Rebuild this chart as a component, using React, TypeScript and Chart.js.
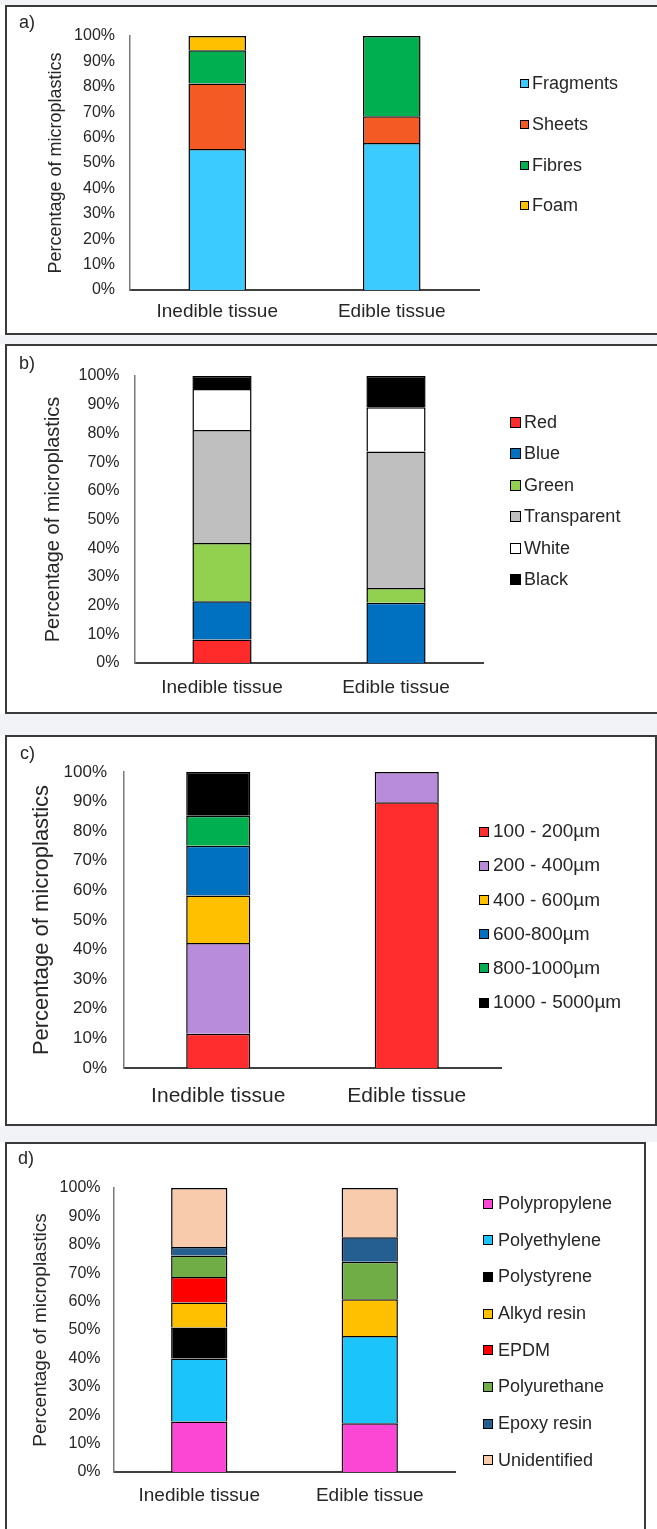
import React, { useEffect, useRef } from 'react';
import { Chart, registerables } from 'chart.js';
Chart.register(...registerables);

const FONT = '"Liberation Sans", Arial, sans-serif';
const TEXT = '#262626';
const AXIS_TITLE = 'Percentage of microplastics';

const categories = ['Inedible tissue', 'Edible tissue'];

// a) shape
const shapeLabels = ['Fragments', 'Sheets', 'Fibres', 'Foam'];
const shapeFragments = [55.5, 57.9];
const shapeSheets = [25.8, 10.5];
const shapeFibres = [13.1, 31.6];
const shapeFoam = [5.6, 0];
const shapeColors = ['#3ccbff', '#f45a24', '#00b050', '#ffc000'];

// b) colour
const colourLabels = ['Red', 'Blue', 'Green', 'Transparent', 'White', 'Black'];
const colourRed = [8.2, 0];
const colourBlue = [13.3, 21.0];
const colourGreen = [20.3, 5.1];
const colourTransparent = [39.4, 47.6];
const colourWhite = [14.3, 15.4];
const colourBlack = [4.5, 10.9];
const colourColors = ['#ff2b2b', '#0070c0', '#92d050', '#bfbfbf', '#ffffff', '#000000'];

// c) size
const sizeLabels = ['100 - 200µm', '200 - 400µm', '400 - 600µm', '600-800µm', '800-1000µm', '1000 - 5000µm'];
const size100 = [11.6, 89.8];
const size200 = [30.6, 10.2];
const size400 = [16.1, 0];
const size600 = [16.8, 0];
const size800 = [10.1, 0];
const size1000 = [14.8, 0];
const sizeColors = ['#ff2d2d', '#b98bdb', '#ffc000', '#0070c0', '#00b050', '#000000'];

// d) polymer
const polymerLabels = ['Polypropylene', 'Polyethylene', 'Polystyrene', 'Alkyd resin', 'EPDM', 'Polyurethane', 'Epoxy resin', 'Unidentified'];
const polyPP = [17.8, 17.2];
const polyPE = [22.2, 30.7];
const polyPS = [10.9, 0];
const polyAlkyd = [8.8, 12.9];
const polyEPDM = [9.0, 0];
const polyPU = [7.5, 13.2];
const polyEpoxy = [3.0, 8.7];
const polyUnid = [20.8, 17.3];
const polymerColors = ['#fc46d4', '#1cc4fc', '#000000', '#ffc000', '#ff0000', '#70ad47', '#255e91', '#f8cbad'];

type PanelCfg = {
  tag: string;
  labels: string[];
  series: number[][];
  colors: string[];
  top: number; height: number; boxWidth: number; canvasH: number;
  plotL: number; plotR: number; plotT: number; plotB: number;
  titleCX: number; titleSize: number;
  tickSize: number; tickRight: number;
  catSize: number; catCY: number;
  legendX: number; legendTextX: number; legendY0: number; legendStep: number; marker: number; legendSize: number;
  tagX: number; tagY: number;
  barPct: number;
};

const panels: PanelCfg[] = [
  {
    tag: 'a)', labels: shapeLabels, series: [shapeFragments, shapeSheets, shapeFibres, shapeFoam], colors: shapeColors,
    top: 5, height: 330, boxWidth: 660, canvasH: 330,
    plotL: 130, plotR: 479, plotT: 36, plotB: 290,
    titleCX: 56.5, titleSize: 18, tickSize: 16, tickRight: 115, catSize: 19, catCY: 311,
    legendX: 520, legendTextX: 532, legendY0: 83, legendStep: 40.8, marker: 8, legendSize: 18,
    tagX: 19, tagY: 23.5, barPct: 0.33,
  },
  {
    tag: 'b)', labels: colourLabels, series: [colourRed, colourBlue, colourGreen, colourTransparent, colourWhite, colourBlack], colors: colourColors,
    top: 344, height: 370, boxWidth: 660, canvasH: 370,
    plotL: 135, plotR: 483, plotT: 376, plotB: 663,
    titleCX: 53, titleSize: 20, tickSize: 16, tickRight: 119.4, catSize: 19, catCY: 687,
    legendX: 510, legendTextX: 524, legendY0: 422, legendStep: 31.4, marker: 10, legendSize: 18,
    tagX: 19, tagY: 364.5, barPct: 0.34,
  },
  {
    tag: 'c)', labels: sizeLabels, series: [size100, size200, size400, size600, size800, size1000], colors: sizeColors,
    top: 735, height: 391, boxWidth: 652, canvasH: 391,
    plotL: 124, plotR: 501, plotT: 772, plotB: 1068,
    titleCX: 42, titleSize: 22, tickSize: 17, tickRight: 107, catSize: 21, catCY: 1095,
    legendX: 479, legendTextX: 493, legendY0: 831, legendStep: 34.2, marker: 9, legendSize: 19,
    tagX: 20, tagY: 754, barPct: 0.34,
  },
  {
    tag: 'd)', labels: polymerLabels, series: [polyPP, polyPE, polyPS, polyAlkyd, polyEPDM, polyPU, polyEpoxy, polyUnid], colors: polymerColors,
    top: 1142, height: 400, boxWidth: 641, canvasH: 387,
    plotL: 114, plotR: 455, plotT: 1188, plotB: 1472,
    titleCX: 41, titleSize: 19, tickSize: 16, tickRight: 100.5, catSize: 19, catCY: 1495,
    legendX: 483, legendTextX: 498, legendY0: 1203, legendStep: 36.7, marker: 9, legendSize: 18,
    tagX: 18, tagY: 1159, barPct: 0.33,
  },
];

const overlayPlugin = {
  id: 'overlay',
  afterDraw(chart: any, _args: any, opts: any) {
    const ctx = chart.ctx;
    ctx.save();
    ctx.textBaseline = 'middle';
    ctx.textAlign = 'left';
    ctx.fillStyle = TEXT;
    ctx.font = `18px ${FONT}`;
    ctx.fillText(opts.tag, opts.tagX, opts.tagY);
    const s = opts.marker;
    chart.data.datasets.forEach((ds: any, i: number) => {
      const y = opts.legendY0 + i * opts.legendStep;
      const x0 = Math.round(opts.legendX) + 0.5;
      const y0 = Math.round(y - s / 2) + 0.5;
      ctx.fillStyle = ds.backgroundColor;
      ctx.fillRect(x0, y0, s, s);
      ctx.strokeStyle = '#000';
      ctx.lineWidth = 1;
      ctx.strokeRect(x0, y0, s, s);
      ctx.fillStyle = TEXT;
      ctx.font = `${opts.legendSize}px ${FONT}`;
      ctx.fillText(ds.label, opts.legendTextX, y + 1);
    });
    ctx.restore();
  },
};

function Panel({ cfg }: { cfg: PanelCfg }) {
  const ref = useRef<HTMLCanvasElement | null>(null);
  useEffect(() => {
    if (!ref.current) return;
    const W = 657;
    const H = cfg.canvasH;
    const plotT = cfg.plotT - cfg.top;
    const plotB = cfg.plotB - cfg.top;
    const padLeft = cfg.titleCX - 4 - 0.6 * cfg.titleSize;
    const yW = cfg.plotL - padLeft;
    const xH = 40;
    const padBottom = H - plotB - xH;
    const catPad = cfg.catCY - cfg.plotB - 0.6 * cfg.catSize + 1;
    const chart = new Chart(ref.current, {
      type: 'bar',
      data: {
        labels: categories,
        datasets: cfg.series.map((d, i) => ({
          label: cfg.labels[i],
          data: d,
          backgroundColor: cfg.colors[i],
          borderColor: '#000000',
          borderWidth: 1.5,
          barPercentage: cfg.barPct,
          categoryPercentage: 1,
        })),
      },
      options: {
        responsive: false,
        animation: false,
        devicePixelRatio: 1,
        layout: { padding: { left: padLeft, right: W - cfg.plotR, top: plotT, bottom: padBottom } },
        plugins: {
          legend: { display: false },
          tooltip: { enabled: false },
          overlay: {
            tag: cfg.tag, tagX: cfg.tagX, tagY: cfg.tagY - cfg.top,
            marker: cfg.marker, legendX: cfg.legendX, legendTextX: cfg.legendTextX,
            legendY0: cfg.legendY0 - cfg.top, legendStep: cfg.legendStep, legendSize: cfg.legendSize,
          },
        } as any,
        scales: {
          x: {
            stacked: true,
            grid: { display: false, drawTicks: false, tickLength: 0 },
            border: { display: true, color: '#404040', width: 2 },
            ticks: { color: TEXT, font: { family: FONT, size: cfg.catSize }, padding: catPad, maxRotation: 0, autoSkip: false },
            afterFit: (s: any) => { s.height = xH; },
          },
          y: {
            stacked: true,
            min: 0,
            max: 100,
            grid: { display: false, drawTicks: false, tickLength: 0 },
            border: { display: true, color: '#7a7a7a', width: 1.5 },
            ticks: {
              stepSize: 10,
              color: TEXT,
              font: { family: FONT, size: cfg.tickSize },
              padding: cfg.plotL - cfg.tickRight,
              callback: (v: any) => `${v}%`,
            },
            title: {
              display: true,
              text: AXIS_TITLE,
              color: TEXT,
              font: { family: FONT, size: cfg.titleSize },
              padding: { top: 4, bottom: 4 },
            },
            afterFit: (s: any) => { s.width = yW; },
          },
        },
      },
      plugins: [overlayPlugin as any],
    });
    return () => chart.destroy();
  }, [cfg]);

  return (
    <>
      <div
        style={{
          position: 'absolute', left: 5, top: cfg.top, width: cfg.boxWidth, height: cfg.height,
          boxSizing: 'border-box', border: '2px solid #3a3a3a', background: '#ffffff',
        }}
      />
      <canvas
        ref={ref}
        width={657}
        height={cfg.canvasH}
        style={{ position: 'absolute', left: 0, top: cfg.top, width: 657, height: cfg.canvasH }}
      />
    </>
  );
}

const gaps = [
  [0, 5],
  [335, 344],
  [714, 735],
  [1126, 1142],
];

export default function App() {
  return (
    <div style={{ position: 'absolute', left: 0, top: 0, width: 657, height: 1529, overflow: 'hidden', background: '#ffffff' }}>
      {gaps.map(([a, b], i) => (
        <div key={i} style={{ position: 'absolute', left: 0, top: a, width: 657, height: b - a, background: '#f2f3f7' }} />
      ))}
      {panels.map((p) => (
        <Panel key={p.tag} cfg={p} />
      ))}
    </div>
  );
}
